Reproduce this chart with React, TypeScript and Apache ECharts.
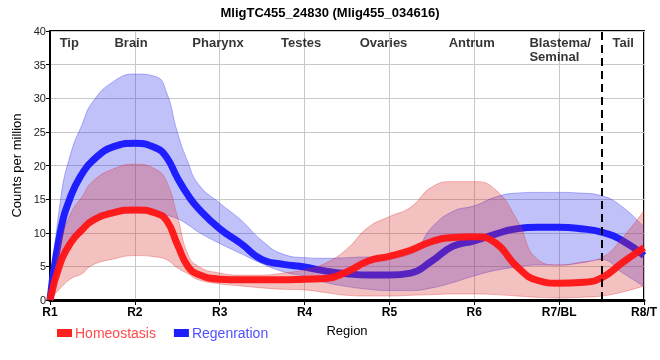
import React, { useEffect, useRef } from "react";
import * as echarts from "echarts";

const xs = [1, 1.125, 1.25, 1.375, 1.5, 1.75, 2, 2.25, 2.375, 2.5, 2.625, 2.75, 3, 3.25, 3.5, 3.75, 4, 4.25, 4.5, 4.75, 5, 5.25, 5.5, 5.75, 6, 6.25, 6.5, 6.75, 7, 7.25, 7.5, 7.75, 8];
const regenMean = [0, 10.3, 15.6, 18.7, 20.7, 22.8, 23.3, 22.6, 21.2, 18.2, 15.6, 13.6, 10.6, 8.4, 6.0, 5.3, 4.9, 4.3, 3.9, 3.7, 3.7, 4.0, 5.8, 8.0, 8.8, 9.8, 10.6, 10.8, 10.8, 10.6, 10.1, 8.8, 6.6];
const regenUpper = [0, 15, 22, 26, 29.4, 32.5, 33.6, 33.2, 30.8, 25, 20.5, 17.2, 14.4, 11.9, 8.8, 6.8, 6.3, 6.2, 6.3, 6.4, 6.4, 6.8, 10.8, 13.2, 14, 15.3, 15.9, 16, 16, 15.9, 15.5, 13.8, 10.8];
const regenLower = [0, 5.6, 8.6, 10.4, 11.8, 13, 13.3, 13, 12.6, 12.1, 11.2, 10.1, 8.4, 6.9, 5.4, 4.2, 3.5, 2.6, 2, 1.6, 1.4, 1.4, 1.8, 2.6, 3.6, 4.4, 4.9, 5.2, 5.2, 5.5, 6.0, 4.0, 2.0];
const homeoMean = [0, 5.6, 8.6, 10.4, 11.8, 13, 13.4, 12.9, 11.8, 8.3, 5.0, 3.8, 3.1, 3.0, 3.0, 3.0, 3.1, 3.2, 4.2, 5.8, 6.5, 7.4, 8.7, 9.3, 9.4, 8.5, 5.0, 2.9, 2.5, 2.6, 3.3, 5.6, 7.8];
const homeoUpper = [0, 8.5, 13, 15.3, 17.6, 19.5, 20.2, 19.4, 17.6, 12.5, 6.8, 5.0, 4.0, 3.7, 3.7, 4, 4.5, 5.5, 7.6, 10.8, 12.4, 13.8, 16.8, 17.6, 17.6, 16.4, 12, 6.0, 5.2, 5.6, 6.3, 9.3, 13.3];
const homeoLower = [0, 1.8, 3.2, 3.9, 5.2, 6.1, 6.6, 6.4, 6.0, 4.8, 3.9, 3.0, 2.4, 2.1, 1.8, 1.6, 1.5, 1.1, 0.7, 0.6, 0.6, 0.7, 0.8, 0.9, 0.9, 0.8, 0.6, 0.4, 0.3, 0.4, 0.6, 1.2, 2.1];

const tickLabels = ["R1", "R2", "R3", "R4", "R5", "R6", "R7/BL", "R8/T"];
const regionNames = ["Tip", "Brain", "Pharynx", "Testes", "Ovaries", "Antrum", "Blastema/\nSeminal", "Tail"];
const regionPos = [1.227, 1.955, 2.98, 3.96, 4.93, 5.97, 6.65, 7.755];
const dividerAt = 7.5;

const FONT = "'Liberation Sans', Arial, sans-serif";

export default function App() {
  const ref = useRef<HTMLDivElement>(null);
  useEffect(() => {
    const chart = echarts.init(ref.current!, undefined, { renderer: "svg" });
    // [y, x] order with encode so the stack applies to the y values
    const yx = (arr: number[]) => xs.map((x, i) => [arr[i], x]);
    const diffYx = (a: number[], b: number[]) => xs.map((x, i) => [a[i] - b[i], x]);
    const pairs = (arr: number[]) => xs.map((x, i) => [x, arr[i]]);
    const blueFill = "rgba(50,50,240,0.43)";
    const redFill = "rgba(220,50,50,0.43)";
    const swapEnc = { x: 1, y: 0 };
    chart.setOption({
      animation: false,
      title: {
        text: "MligTC455_24830 (Mlig455_034616)",
        left: "center",
        top: 1,
        textStyle: { fontFamily: FONT, fontSize: 13, fontWeight: "bold", color: "#000" },
      },
      legend: {
        left: 52,
        top: 321,
        icon: "rect",
        itemWidth: 15,
        itemHeight: 8,
        itemGap: 18,
        data: [
          { name: "Homeostasis", textStyle: { color: "#ff4a4a" } },
          { name: "Regenration", textStyle: { color: "#5050ff" } },
        ],
        textStyle: { fontFamily: FONT, fontSize: 14, padding: [0, 0, 0, -2] },
      },
      grid: { left: 50, right: 9, top: 31, bottom: 60, show: true, borderColor: "#000", borderWidth: 2, backgroundColor: "transparent" },
      xAxis: {
        type: "value",
        min: 1,
        max: 8,
        interval: 1,
        name: "Region",
        nameLocation: "middle",
        nameGap: 24,
        nameTextStyle: { fontFamily: FONT, fontSize: 13, color: "#000" },
        axisLine: { lineStyle: { color: "#000", width: 3 } },
        axisTick: { show: true, length: 5, lineStyle: { color: "#000", width: 1 } },
        axisLabel: {
          fontFamily: FONT,
          fontSize: 12,
          fontWeight: "bold",
          color: "#000",
          margin: 6,
          formatter: (v: number) => tickLabels[Math.round(v) - 1] ?? "",
        },
        splitLine: { show: true, lineStyle: { color: "#c8c8c8", width: 1 } },
      },
      yAxis: {
        type: "value",
        min: 0,
        max: 40,
        interval: 5,
        name: "Counts per million",
        nameLocation: "middle",
        nameGap: 19,
        nameTextStyle: { fontFamily: FONT, fontSize: 13, color: "#000" },
        axisLine: { show: true, lineStyle: { color: "#000", width: 2 } },
        axisTick: { show: true, length: 4, lineStyle: { color: "#000" } },
        axisLabel: { fontFamily: FONT, fontSize: 11, color: "#222", margin: 4 },
        splitLine: { show: true, lineStyle: { color: "#c8c8c8", width: 1 } },
      },
      series: [
        {
          type: "line",
          name: "regenLow",
          stack: "b",
          encode: swapEnc,
          data: yx(regenLower),
          smooth: true,
          symbol: "none",
          lineStyle: { width: 1, color: "rgba(50,50,240,0.35)" },
          silent: true,
          z: 1,
        },
        {
          type: "line",
          name: "regenBand",
          stack: "b",
          encode: swapEnc,
          data: diffYx(regenUpper, regenLower),
          smooth: true,
          symbol: "none",
          lineStyle: { width: 1, color: "rgba(50,50,240,0.35)" },
          areaStyle: { color: blueFill },
          silent: true,
          z: 1,
        },
        {
          type: "line",
          name: "Regenration",
          data: pairs(regenMean),
          smooth: true,
          symbol: "none",
          color: "#1e1eff",
          lineStyle: { width: 7, color: "#1e1eff" },
          z: 2,
        },
        {
          type: "line",
          name: "homeoLow",
          stack: "r",
          encode: swapEnc,
          data: yx(homeoLower),
          smooth: true,
          symbol: "none",
          lineStyle: { width: 1, color: "rgba(220,50,50,0.35)" },
          silent: true,
          z: 3,
        },
        {
          type: "line",
          name: "homeoBand",
          stack: "r",
          encode: swapEnc,
          data: diffYx(homeoUpper, homeoLower),
          smooth: true,
          symbol: "none",
          lineStyle: { width: 1, color: "rgba(220,50,50,0.35)" },
          areaStyle: { color: redFill },
          silent: true,
          z: 3,
        },
        {
          type: "line",
          name: "Homeostasis",
          data: pairs(homeoMean),
          smooth: true,
          symbol: "none",
          color: "#ff2020",
          lineStyle: { width: 7, color: "rgba(255,20,20,0.95)" },
          z: 4,
          markLine: {
            silent: true,
            symbol: "none",
            label: { show: false },
            lineStyle: { color: "#000", width: 2, type: [8, 5] },
            data: [[{ coord: [dividerAt, 0] }, { coord: [dividerAt, 40] }]],
          },
        },
        {
          type: "scatter",
          name: "regions",
          symbolSize: 0,
          silent: true,
          z: 5,
          data: regionNames.map((n, i) => ({
            value: [regionPos[i], 40, n],
            label: n.includes("\n") ? { align: "left" } : undefined,
          })),
          label: {
            show: true,
            position: [0, 4],
            align: "center",
            verticalAlign: "top",
            fontFamily: FONT,
            fontSize: 13,
            fontWeight: "bold",
            color: "#000",
            lineHeight: 14,
            formatter: (p: any) => p.value[2],
          },
        },
      ],
    });
    return () => chart.dispose();
  }, []);
  return <div ref={ref} style={{ position: "fixed", left: 0, top: 0, width: 660, height: 360 }} />;
}
